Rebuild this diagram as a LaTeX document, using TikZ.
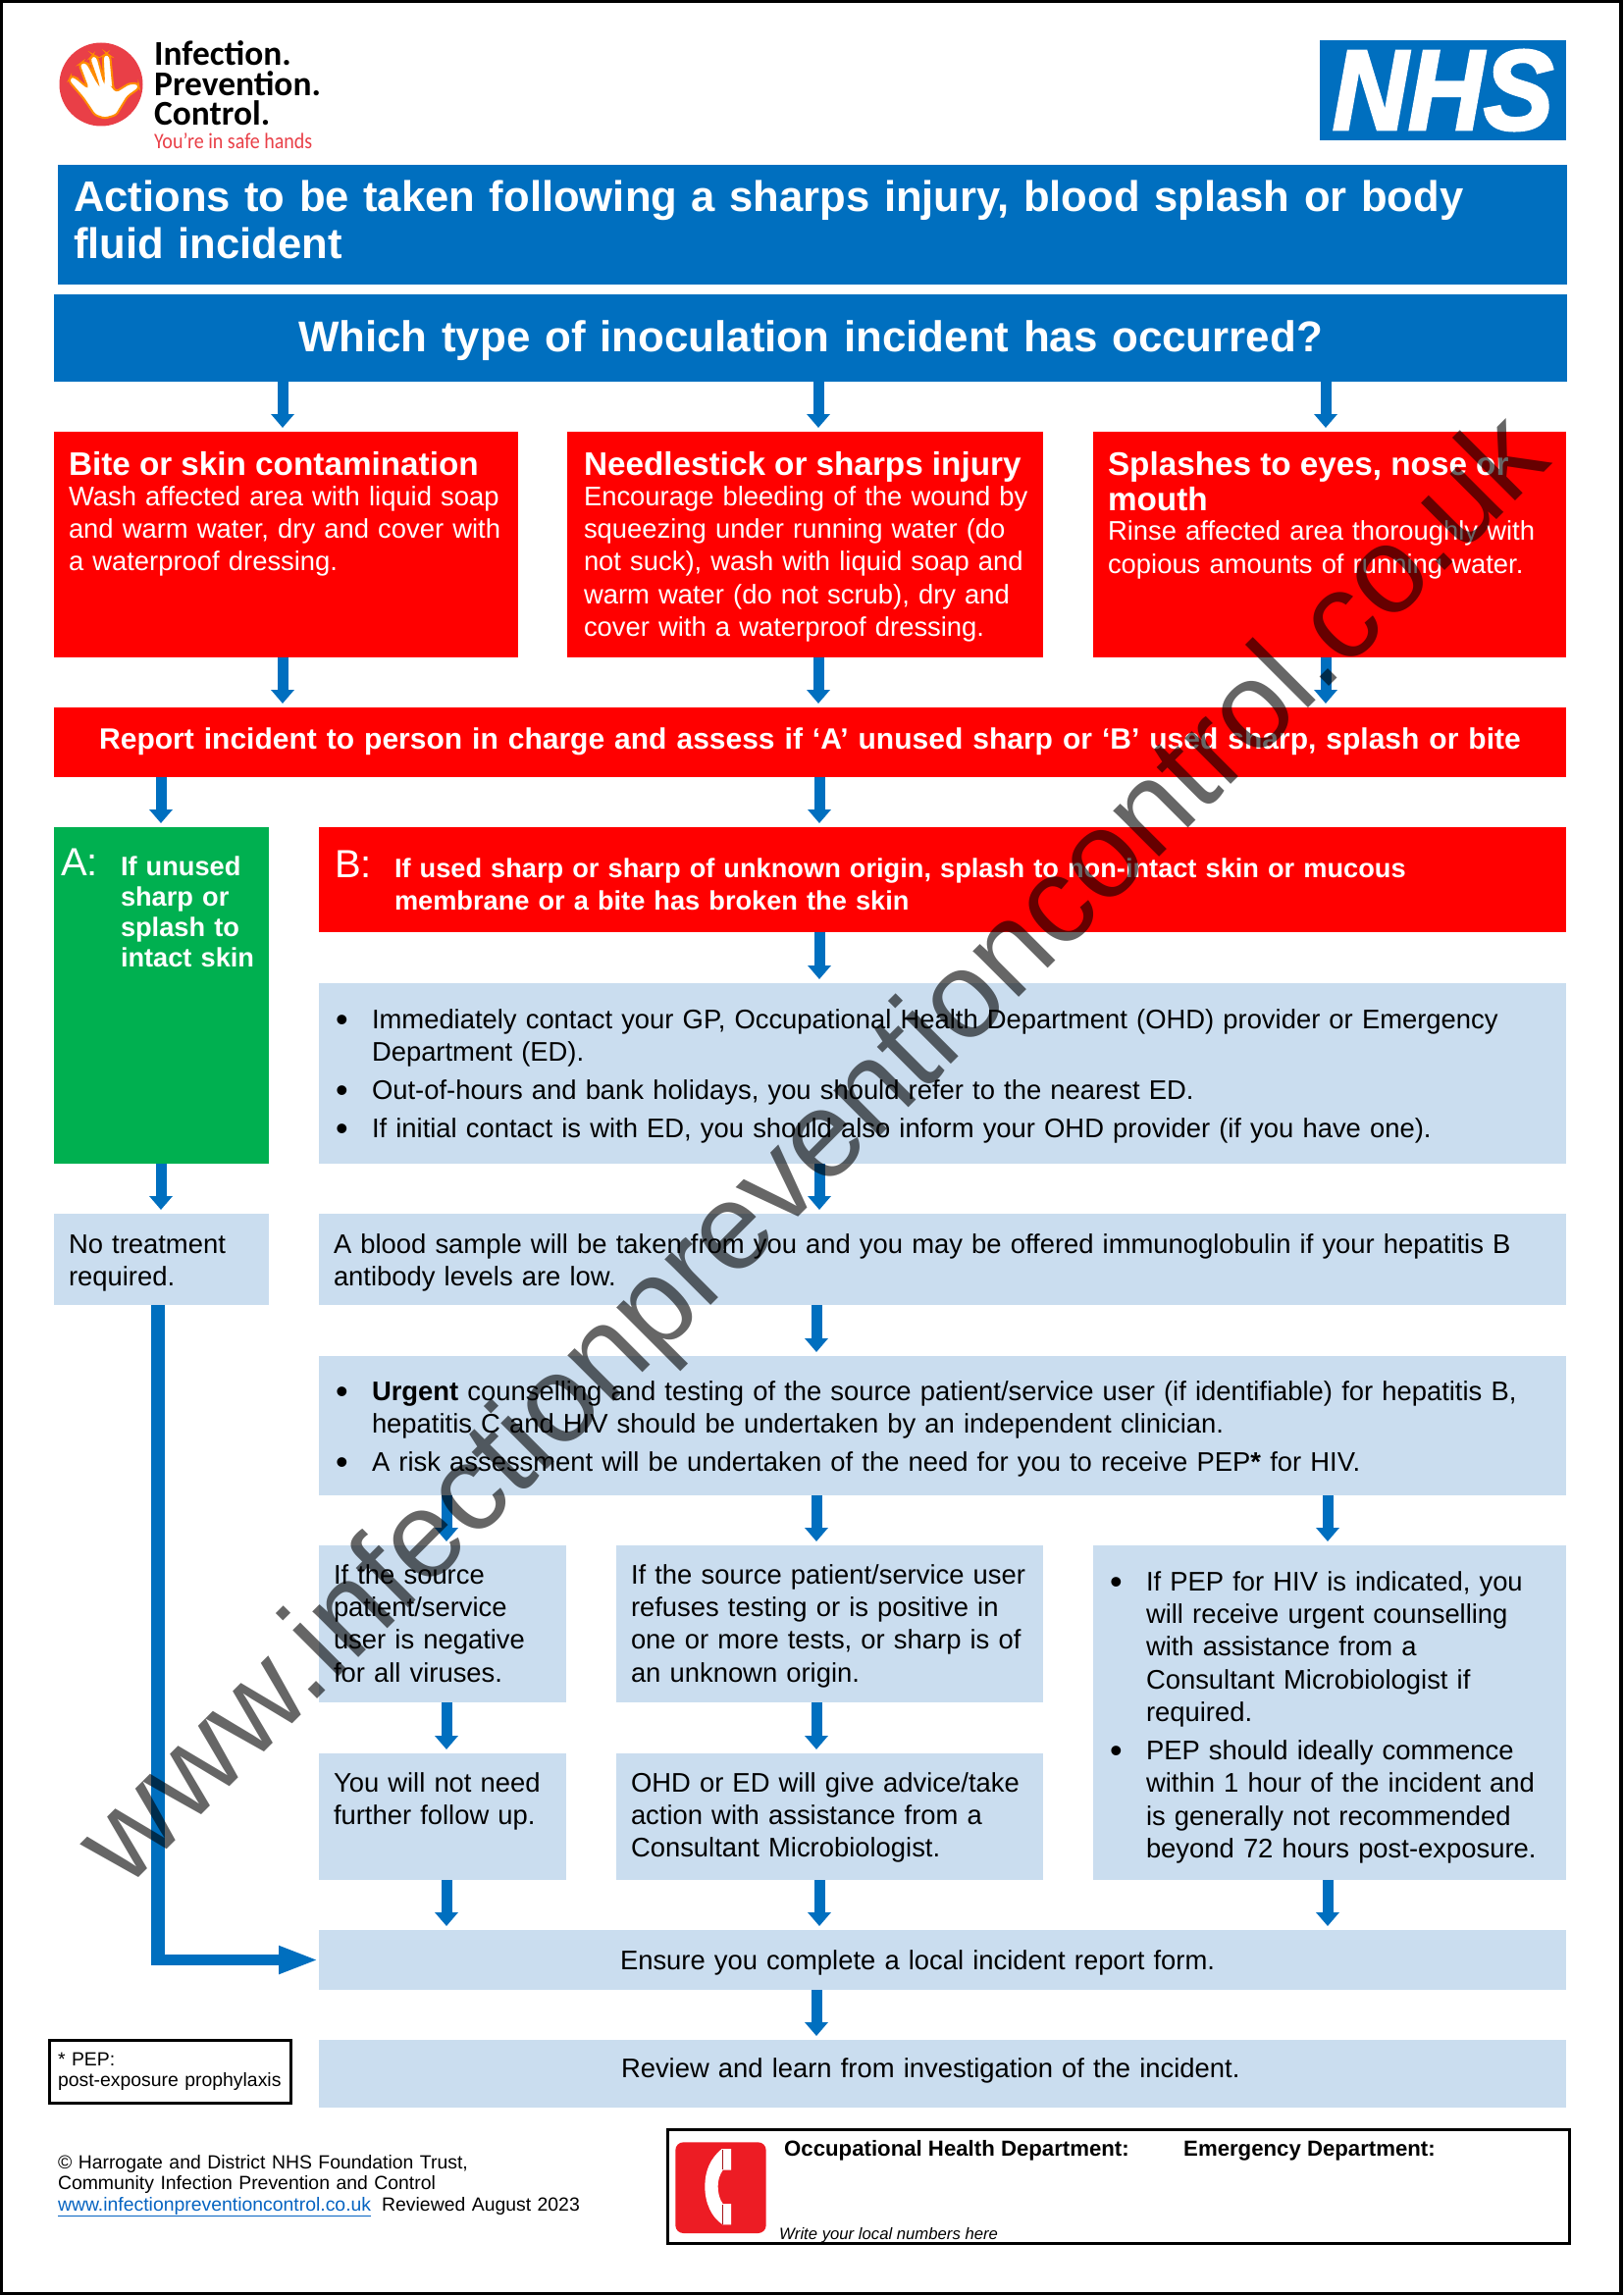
\documentclass[tikz,border=0pt]{standalone}
\usepackage{fontspec}
\setmainfont{Liberation Sans}
\newfontfamily\logofont{Carlito}
\newfontfamily\nhsfont[FakeBold=2.5]{Liberation Sans Bold Italic}
\usetikzlibrary{positioning,arrows.meta}

\hyphenpenalty=10000
\exhyphenpenalty=10000

\definecolor{nhsblue}{HTML}{006FBF}
\definecolor{alertred}{HTML}{FF0000}
\definecolor{safegreen}{HTML}{00B050}
\definecolor{paleblue}{HTML}{CADDEF}
\definecolor{phonered}{HTML}{ED1C24}
\definecolor{logored}{HTML}{E93F47}
\definecolor{linkblue}{HTML}{0563C1}

\newcommand{\bodyfont}{\fontsize{27.4}{33.4}\selectfont}
\newcommand{\headfont}{\fontsize{33.3}{36}\selectfont\bfseries}
\newcommand{\smallfont}{\fontsize{19.4}{21.5}\selectfont}
\newcommand{\headline}[1]{{\headfont #1\par}\vspace{-2.4pt}\bodyfont}
\newcommand{\bitem}[1]{\noindent\hangindent=31pt\hangafter=1\makebox[31pt][l]{\hspace*{-6pt}\raisebox{-3.3pt}{\fontsize{36}{36}\selectfont •}}#1\par}
\newcommand{\lettered}[2]{\noindent\hangindent=61pt\hangafter=1\makebox[61pt][l]{\fontsize{40}{36}\selectfont #1}\textbf{#2}\par}

\tikzset{
    area/.style n args={3}{anchor=north west, inner sep=0pt, outer sep=0pt, minimum width=#1pt,
        text width=#1pt-30pt, text height=#3pt, text depth=#2pt-#3pt, align=left, font=\bodyfont},
    bluebox/.style={fill=nhsblue, text=white},
    redbox/.style={fill=alertred, text=white},
    pale/.style={fill=paleblue},
    flow/.style={draw=nhsblue, line width=11pt, shorten >=4pt, -{Triangle[length=14pt,width=23pt]}},
    inked/.style={draw=black, line width=3pt}
}

\begin{document}
\begin{tikzpicture}[x=1pt, y=-1pt]
    \useasboundingbox (0,0) rectangle (1654,2339);
    \draw[black, line width=3.5pt] (1.5,1.5) rectangle (1652,2337.5);

    \node[area={1538}{122}{47}, bluebox, font=\fontsize{43.6}{48.3}\selectfont\bfseries, text width=1506pt] (title) at (59,168)
        {Actions to be taken following a sharps injury, blood splash or body\newline fluid incident};
    \node[area={1542}{89}{58}, bluebox, align=center, font=\fontsize{43.9}{48}\selectfont\bfseries, below right=10pt and -4pt of title.south west] (which)
        {Which type of inoculation incident has occurred?};

    \node[area={473}{230}{44}, redbox, below right=51pt and 0pt of which.south west] (bite)
        {\headline{Bite or skin contamination}Wash affected area with liquid soap\newline and warm water, dry and cover with\newline a waterproof dressing.};
    \node[area={485}{230}{44}, redbox, text width=451pt, right=50pt of bite.north east, anchor=north west] (needle)
        {\headline{Needlestick or sharps injury}\makebox[451pt][l]{Encourage bleeding of the wound by}\newline squeezing under running water (do\newline not suck), wash with liquid soap and\newline warm water (do not scrub), dry and\newline cover with a waterproof dressing.};
    \node[area={482}{230}{44}, redbox, right=51pt of needle.north east, anchor=north west] (splash)
        {{\headfont Splashes to eyes, nose or\newline mouth\par}\vspace{-2.5pt}\bodyfont Rinse affected area thoroughly with\newline copious amounts of running water.};

    \node[area={1541}{71}{42}, redbox, align=center, font=\fontsize{30}{33}\selectfont\bfseries, below right=51pt and 0pt of bite.south west] (report)
        {Report incident to person in charge and assess if ‘A’ unused sharp or ‘B’ used sharp, splash or bite};

    \node[area={219}{343}{49}, fill=safegreen, text=white, text width=205pt, below right=51pt and 0pt of report.south west] (boxa)
        {\fontsize{27.2}{31}\selectfont\lettered{A:}{If unused\newline sharp or\newline splash to\newline intact skin}};
    \node[area={1271}{107}{51}, redbox, text width=1239pt, font=\fontsize{27.2}{33.4}\selectfont, right=51pt of boxa.north east, anchor=north west] (boxb)
        {\lettered{B:}{If used sharp or sharp of unknown origin, splash to non-intact skin or mucous\newline membrane or a bite has broken the skin}};
    \node[area={1271}{184}{46}, pale, text width=1225pt, below right=52pt and 0pt of boxb.south west] (care)
        {\setlength{\parskip}{5.5pt}\bitem{Immediately contact your GP, Occupational Health Department (OHD) provider or Emergency\newline Department (ED).}\bitem{Out-of-hours and bank holidays, you should refer to the nearest ED.}\bitem{If initial contact is with ED, you should also inform your OHD provider (if you have one).}};

    \node[area={219}{93}{40}, pale, below right=51pt and 0pt of boxa.south west] (none)
        {\fontsize{27.4}{31}\selectfont No treatment\newline required.};
    \node[area={1271}{93}{40}, pale, right=51pt of none.north east, anchor=north west] (blood)
        {A blood sample will be taken from you and you may be offered immunoglobulin if your hepatitis B\newline antibody levels are low.};
    \node[area={1271}{142}{45}, pale, text width=1225pt, below right=52pt and 0pt of blood.south west] (urgent)
        {\setlength{\parskip}{5.5pt}\bitem{\textbf{Urgent} counselling and testing of the source patient/service user (if identifiable) for hepatitis B,\newline hepatitis C and HIV should be undertaken by an independent clinician.}\bitem{A risk assessment will be undertaken of the need for you to receive PEP\textbf{*} for HIV.}};

    \node[area={252}{160}{39}, pale, below right=51pt and 0pt of urgent.south west] (negative)
        {If the source\newline patient/service\newline user is negative\newline for all viruses.};
    \node[area={435}{160}{39}, pale, right=51pt of negative.north east, anchor=north west] (refused)
        {If the source patient/service user\newline refuses testing or is positive in\newline one or more tests, or sharp is of\newline an unknown origin.};
    \node[area={482}{341}{46}, pale, text width=436pt, right=51pt of refused.north east, anchor=north west] (pep)
        {\setlength{\parskip}{5.5pt}\bitem{If PEP for HIV is indicated, you\newline will receive urgent counselling\newline with assistance from a\newline Consultant Microbiologist if\newline required.}\bitem{PEP should ideally commence\newline within 1 hour of the incident and\newline is generally not recommended\newline beyond 72 hours post-exposure.}};
    \node[area={252}{129}{39}, pale, below right=52pt and 0pt of negative.south west] (nofollow)
        {You will not need\newline further follow up.};
    \node[area={435}{129}{39}, pale, below right=52pt and 0pt of refused.south west] (advice)
        {OHD or ED will give advice/take\newline action with assistance from a\newline Consultant Microbiologist.};
    \node[area={1271}{61}{40}, pale, below right=51pt and 0pt of nofollow.south west] (ensure)
        {\hspace*{292pt}Ensure you complete a local incident report form.};
    \node[area={1271}{69}{38}, pale, below right=51pt and 0pt of ensure.south west] (review)
        {\hspace*{293pt}Review and learn from investigation of the incident.};

    \node[area={246}{64}{26}, inked, text width=228pt, font=\smallfont, left=29pt of review.north west, anchor=north east] (pepnote)
        {* PEP:\newline post-exposure prophylaxis};
    \node[area={600}{80}{20}, text width=600pt, font=\smallfont] (credit) at (59,2190)
        {© Harrogate and District NHS Foundation Trust,\newline Community Infection Prevention and Control\newline \textcolor{linkblue}{\underline{www.infectionpreventioncontrol.co.uk}}\hspace{11pt}Reviewed August 2023};

    \node[area={919}{116}{0}, inked] (contact) at (680,2170) {};
    \node[anchor=base west, inner sep=0pt, font=\fontsize{22.2}{24}\selectfont\bfseries] (occupational) at (799,2197) {Occupational Health Department:};
    \node[anchor=base west, inner sep=0pt, font=\fontsize{22.2}{24}\selectfont\bfseries] (emergency) at (1206,2197) {Emergency Department:};
    \node[anchor=base west, inner sep=0pt, font=\fontsize{16.7}{18}\selectfont\itshape] (localnumbers) at (794,2282) {Write your local numbers here};

    \node[fill=nhsblue, text=white, inner sep=0pt, minimum width=251pt, minimum height=102pt, font=\fontsize{116}{116}\selectfont\nhsfont] (nhs) at (1470.5,92) {\scalebox{0.92}[1]{NHS}};

    \node[anchor=base west, inner sep=0pt, font=\logofont\fontsize{35.4}{37}\selectfont\bfseries] (logoa) at (157,67) {Infection.};
    \node[anchor=base west, inner sep=0pt, font=\logofont\fontsize{35.4}{37}\selectfont\bfseries] (logob) at (157,98) {Prevention.};
    \node[anchor=base west, inner sep=0pt, font=\logofont\fontsize{35.4}{37}\selectfont\bfseries] (logoc) at (157,128) {Control.};
    \node[anchor=base west, inner sep=0pt, text=logored, font=\logofont\fontsize{22.5}{24}\selectfont] (logod) at (157,151) {\scalebox{0.89}[1]{You’re in safe hands}};

    \fill[logored] (103,86) circle (42.5);
    \begin{scope}[shift={(50,30)}, x=0.3333pt, y=-0.3333pt]
        \filldraw[fill=white, draw=orange!90!yellow, line width=2pt, rounded corners=3pt]
            (140,262) -- (105,210) -- (60,158) -- (68,142) -- (82,148) -- (118,178) -- (92,108) -- (105,98) -- (118,105)
            -- (150,165) -- (124,90) -- (135,78) -- (148,85) -- (168,160) -- (164,82) -- (176,74) -- (187,82) -- (196,178)
            -- (205,190) -- (245,165) -- (272,165) -- (275,180) -- (240,205) -- (205,262) -- (170,272) -- cycle;
    \end{scope}

    \begin{scope}[shift={(670,2160)}, x=0.3333pt, y=-0.3333pt]
        \fill[phonered, rounded corners=8pt] (55,70) rectangle (332,348);
        \fill[white] (225,90) -- (197,90) .. controls (160,120) and (145,160) .. (145,205)
            .. controls (145,255) and (165,300) .. (200,322) -- (225,322) -- (225,258) -- (200,258)
            .. controls (190,245) and (185,225) .. (185,205) .. controls (185,185) and (190,170) .. (200,155) -- (225,155) -- cycle;
        \draw[phonered!70!black, line width=1pt] (200,92) -- (200,153) (200,260) -- (200,320);
    \end{scope}

    \coordinate (colA) at (288,0);
    \coordinate (colB) at (834,0);
    \coordinate (colC) at (1351,0);
    \coordinate (colD) at (164,0);
    \coordinate (colE) at (455,0);
    \coordinate (colF) at (832,0);
    \coordinate (colG) at (1353,0);
    \coordinate (colH) at (835,0);
    \coordinate (colL) at (161,0);

    \draw[flow] (which.south -| colA) -- (bite.north -| colA);
    \draw[flow] (which.south -| colB) -- (needle.north -| colB);
    \draw[flow] (which.south -| colC) -- (splash.north -| colC);
    \draw[flow] (bite.south -| colA) -- (report.north -| colA);
    \draw[flow] (needle.south -| colB) -- (report.north -| colB);
    \draw[flow] (splash.south -| colC) -- (report.north -| colC);
    \draw[flow] (report.south -| colD) -- (boxa.north -| colD);
    \draw[flow] (report.south -| colH) -- (boxb.north -| colH);
    \draw[flow] (boxa.south -| colD) -- (none.north -| colD);
    \draw[flow] (boxb.south -| colH) -- (care.north -| colH);
    \draw[flow] (care.south -| colH) -- (blood.north -| colH);
    \draw[flow] (blood.south -| colF) -- (urgent.north -| colF);
    \draw[flow] (urgent.south -| colE) -- (negative.north -| colE);
    \draw[flow] (urgent.south -| colF) -- (refused.north -| colF);
    \draw[flow] (urgent.south -| colG) -- (pep.north -| colG);
    \draw[flow] (negative.south -| colE) -- (nofollow.north -| colE);
    \draw[flow] (refused.south -| colF) -- (advice.north -| colF);
    \draw[flow] (nofollow.south -| colE) -- (ensure.north -| colE);
    \draw[flow] (advice.south -| colH) -- (ensure.north -| colH);
    \draw[flow] (pep.south -| colG) -- (ensure.north -| colG);
    \draw[flow] (ensure.south -| colF) -- (review.north -| colF);

    \draw[draw=nhsblue, line width=14pt] (none.south -| colL) -- ([yshift=-5pt]colL |- ensure.west);
    \draw[flow, shorten >=0pt, -{Triangle[length=41pt,width=26pt]}] (colL |- ensure.west) -- (ensure.west);

    % watermark across the sheet
    \node[rotate=45, inner sep=0pt, text=black, text opacity=0.6, font=\fontsize{125}{125}\selectfont] (watermark) at (833,1176) {www.infectionpreventioncontrol.co.uk};
\end{tikzpicture}
\end{document}
